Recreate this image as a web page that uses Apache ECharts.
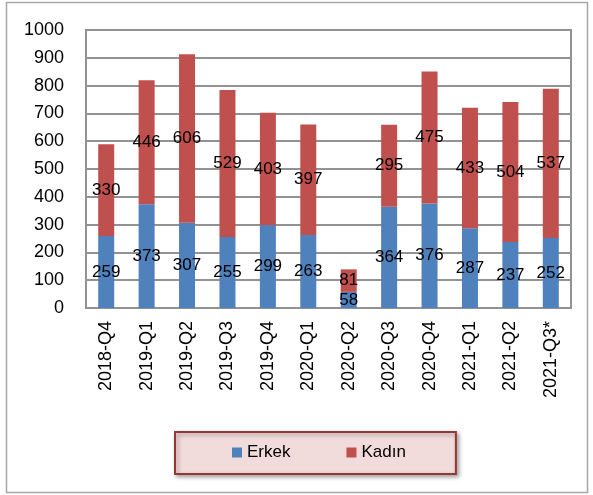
<!DOCTYPE html>
<html><head><meta charset="utf-8">
<script src="https://cdn.jsdelivr.net/npm/echarts@6/dist/echarts.min.js"></script>
<style>html,body{margin:0;padding:0;background:#fff}#c{width:593px;height:495px}</style>
</head><body><div id="c"></div>
<script>
const categories = ['2018-Q4','2019-Q1','2019-Q2','2019-Q3','2019-Q4','2020-Q1','2020-Q2','2020-Q3','2020-Q4','2021-Q1','2021-Q2','2021-Q3*'];
const erkek = [259,373,307,255,299,263,58,364,376,287,237,252];
const kadin = [330,446,606,529,403,397,81,295,475,433,504,537];
const yTicks = {min:0, max:1000, interval:100};
const FONT = '"Liberation Sans", Arial, sans-serif';
const chart = echarts.init(document.getElementById('c'), null, {renderer:'canvas'});
const lbl = {show:true, position:'inside', color:'#000', fontSize:17, fontFamily:FONT};
chart.setOption({
  backgroundColor:'#fff',
  animation:false,
  graphic:[{type:'rect', shape:{x:6.5,y:2.5,width:581,height:490}, style:{fill:'none', stroke:'#a6a6a6', lineWidth:1.5}, z:-1}],
  grid:{left:86, right:22, top:30, bottom:187, show:true, borderColor:'#929292', borderWidth:2, backgroundColor:'transparent'},
  legend:{
    data:['Erkek','Kadın'], left:175, top:432,
    padding:[12,50,13,57], itemGap:56, itemWidth:10, itemHeight:10, icon:'rect',
    backgroundColor:'#f2dcdb', borderColor:'#953735', borderWidth:2,
    shadowBlur:4, shadowColor:'rgba(0,0,0,0.35)', shadowOffsetX:2, shadowOffsetY:2,
    textStyle:{fontSize:17, fontFamily:FONT, color:'#000', padding:[0,0,0,0]}
  },
  xAxis:{
    type:'category', data:categories,
    axisLine:{lineStyle:{color:'#929292', width:2}}, axisTick:{show:false},
    axisLabel:{rotate:90, fontSize:18, fontFamily:FONT, color:'#000', margin:13, interval:0}
  },
  yAxis:{
    type:'value', min:yTicks.min, max:yTicks.max, interval:yTicks.interval,
    axisLine:{show:true, lineStyle:{color:'#929292', width:2}}, axisTick:{show:false},
    splitLine:{lineStyle:{color:'#929292', width:2}},
    axisLabel:{fontSize:18, fontFamily:FONT, color:'#000', margin:22, formatter:v => String(v)}
  },
  series:[
    {name:'Erkek', type:'bar', stack:'t', data:erkek, barWidth:16, itemStyle:{color:'#4f81bd'}, label:lbl},
    {name:'Kadın', type:'bar', stack:'t', data:kadin, barWidth:16, itemStyle:{color:'#c0504d'}, label:lbl}
  ]
});
</script></body></html>
